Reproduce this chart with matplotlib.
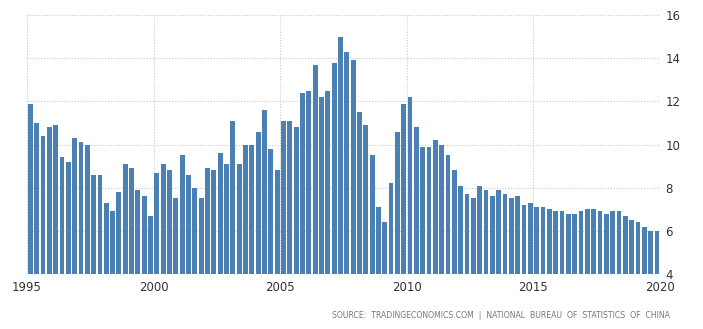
import matplotlib
matplotlib.use("Agg")
import matplotlib.pyplot as plt
import numpy as np

# China GDP annual growth rate, quarterly, 1995Q1 - 2019Q4 (%)
years = list(range(1995, 2020))
growth = [
    11.9, 11.0, 10.4, 10.8,   # 1995
    10.9, 9.4, 9.2, 10.3,     # 1996
    10.1, 10.0, 8.6, 8.6,     # 1997
    7.3, 6.9, 7.8, 9.1,       # 1998
    8.9, 7.9, 7.6, 6.7,       # 1999
    8.7, 9.1, 8.8, 7.5,       # 2000
    9.5, 8.6, 8.0, 7.5,       # 2001
    8.9, 8.8, 9.6, 9.1,       # 2002
    11.1, 9.1, 10.0, 10.0,    # 2003
    10.6, 11.6, 9.8, 8.8,     # 2004
    11.1, 11.1, 10.8, 12.4,   # 2005
    12.5, 13.7, 12.2, 12.5,   # 2006
    13.8, 15.0, 14.3, 13.9,   # 2007
    11.5, 10.9, 9.5, 7.1,     # 2008
    6.4, 8.2, 10.6, 11.9,     # 2009
    12.2, 10.8, 9.9, 9.9,     # 2010
    10.2, 10.0, 9.5, 8.8,     # 2011
    8.1, 7.7, 7.5, 8.1,       # 2012
    7.9, 7.6, 7.9, 7.7,       # 2013
    7.5, 7.6, 7.2, 7.3,       # 2014
    7.1, 7.1, 7.0, 6.9,       # 2015
    6.9, 6.8, 6.8, 6.9,       # 2016
    7.0, 7.0, 6.9, 6.8,       # 2017
    6.9, 6.9, 6.7, 6.5,       # 2018
    6.4, 6.2, 6.0, 6.0,       # 2019
]
x_ticks = [1995, 2000, 2005, 2010, 2015, 2020]
y_ticks = [4, 6, 8, 10, 12, 14, 16]

BAR_COLOR = "#4a80b3"
GRID_COLOR = "#c8c8c8"
TEXT_COLOR = "#333333"

quarters = np.array([y + q * 0.25 for y in years for q in range(4)])

fig = plt.figure(figsize=(7.03, 3.29), dpi=100)
ax = fig.add_axes([0.0384, 0.1672, 0.9004, 0.787])

ax.bar(quarters + 0.035, np.array(growth) - 4, width=0.19, bottom=4,
       align="edge", color=BAR_COLOR, linewidth=0, zorder=2)

ax.set_xlim(1995, 2020)
ax.set_ylim(4, 16)
ax.set_xticks(x_ticks)
ax.set_yticks(y_ticks)
ax.yaxis.tick_right()
ax.tick_params(axis="y", length=0, pad=4,
               labelsize=8.5, labelcolor=TEXT_COLOR)
ax.tick_params(axis="x", length=0, pad=5,
               labelsize=8.5, labelcolor=TEXT_COLOR)
ax.grid(True, color=GRID_COLOR, linestyle=(0, (1, 1.5)), linewidth=0.8, zorder=0)

for side in ["top", "left", "right", "bottom"]:
    ax.spines[side].set_visible(False)

fig.text(0.953, 0.027,
         "SOURCE:  TRADINGECONOMICS.COM  |  NATIONAL  BUREAU  OF  STATISTICS  OF  CHINA",
         ha="right", va="bottom", fontsize=5.6, color="#777777")

fig.savefig("out.png", dpi=100)
